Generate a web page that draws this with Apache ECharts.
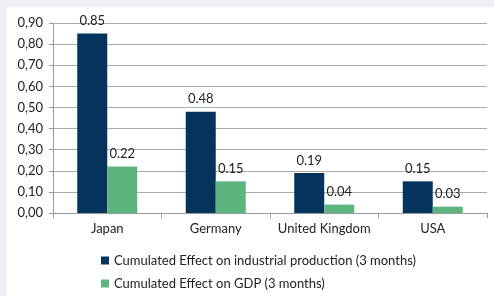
<!DOCTYPE html>
<html><head><meta charset="utf-8">
<script src="https://cdn.jsdelivr.net/npm/echarts@6/dist/echarts.min.js"></script>
<style>
html,body{margin:0;padding:0;background:#eef0f5;width:494px;height:296px;overflow:hidden}
#bg{position:absolute;left:7px;top:7px;width:600px;height:600px;background:#fff}
#c{position:absolute;left:7px;top:7px;width:487px;height:289px}
</style></head>
<body><div id="bg"></div><div id="c"></div>
<script>
const categories = ['Japan', 'Germany', 'United Kingdom', 'USA'];
const industrialProduction = [0.85, 0.48, 0.19, 0.15];
const gdp = [0.22, 0.15, 0.04, 0.03];
const seriesNames = ['Cumulated Effect on industrial production (3 months)', 'Cumulated Effect on GDP (3 months)'];
const yTickLabels = ['0,00','0,10','0,20','0,30','0,40','0,50','0,60','0,70','0,80','0,90'];

const font = 'Lato, "Open Sans", sans-serif';
const chart = echarts.init(document.getElementById('c'), null, {renderer: 'canvas'});
const labelCfg = {show: true, position: 'top', distance: 6, color: '#222', fontSize: 13, fontFamily: font,
  formatter: p => p.value.toFixed(2)};
chart.setOption({
  animation: false,
  textStyle: {fontFamily: font},
  grid: {left: 46, top: 16, right: 7, bottom: 83},
  legend: {
    orient: 'vertical', left: 94, top: 247, height: 60, padding: 0, itemWidth: 8, itemHeight: 8, itemGap: 10,
    icon: 'rect', textStyle: {fontSize: 13, color: '#222', fontFamily: font},
    data: seriesNames
  },
  xAxis: {
    type: 'category', data: categories,
    axisLine: {lineStyle: {color: '#999'}},
    axisTick: {show: true, length: 5, lineStyle: {color: '#999'}},
    axisLabel: {color: '#222', fontSize: 13, fontFamily: font, margin: 9, interval: 0}
  },
  yAxis: {
    type: 'value', min: 0, max: 0.9, interval: 0.1,
    axisLine: {show: true, lineStyle: {color: '#999'}},
    axisTick: {show: true, length: 4, lineStyle: {color: '#999'}},
    splitLine: {lineStyle: {color: '#aaa', width: 1}},
    axisLabel: {color: '#222', fontSize: 13, fontFamily: font, margin: 10,
      formatter: v => yTickLabels[Math.round(v * 10)]}
  },
  series: [
    {name: seriesNames[0], type: 'bar', data: industrialProduction, barWidth: 30, barGap: '0%',
      itemStyle: {color: '#04345c'}, label: labelCfg},
    {name: seriesNames[1], type: 'bar', data: gdp, barWidth: 30, barGap: '0%',
      itemStyle: {color: '#5db47e'}, label: labelCfg}
  ]
});
</script></body></html>
